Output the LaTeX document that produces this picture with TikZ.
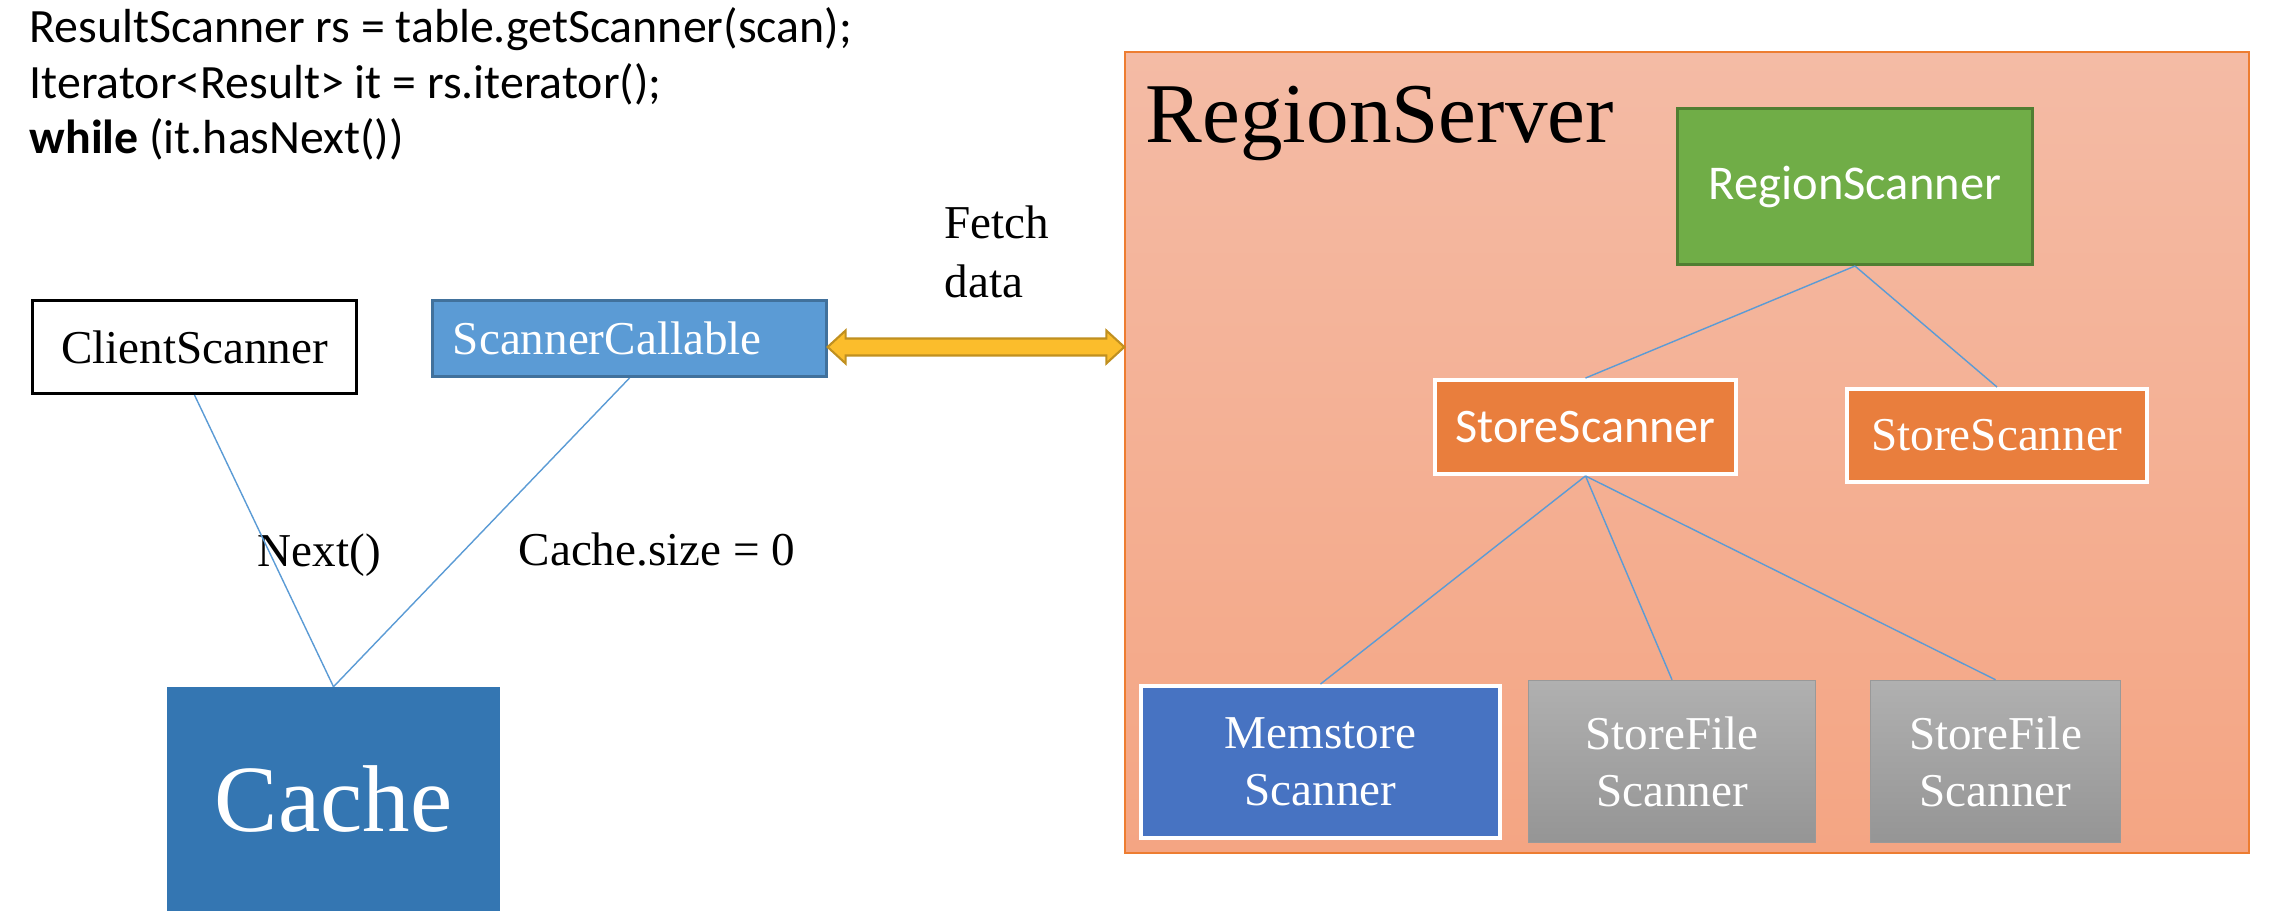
\documentclass[tikz,border=0pt]{standalone}
\usepackage{fontspec}
\setmainfont{Liberation Serif}
\newfontfamily\calibri{Carlito}
\usepackage{xcolor}
\usetikzlibrary{calc}
\definecolor{xline}{HTML}{5B9BD5}
\definecolor{xcall}{HTML}{5B9BD5}
\definecolor{xcalledge}{HTML}{41719C}
\definecolor{xgreen}{HTML}{70AD47}
\definecolor{xgreenedge}{HTML}{507E32}
\definecolor{xorange}{HTML}{E97E3D}
\definecolor{xmem}{HTML}{4773C2}
\definecolor{xcache}{HTML}{3476B2}
\definecolor{xrstop}{HTML}{F4BBA5}
\definecolor{xrsbot}{HTML}{F4A583}
\definecolor{xrsedge}{HTML}{ED7D31}
\definecolor{xgraytop}{HTML}{B0B0B0}
\definecolor{xgraybot}{HTML}{959595}
\definecolor{xyellow}{HTML}{FBBD2C}
\definecolor{xyellowedge}{HTML}{C09020}
\newcommand\labelsize{\fontsize{13.4}{16.2}\selectfont}
\newcommand\codesize{\fontsize{13.6}{16}\selectfont}
\tikzset{
	box/.style={draw, line width=0.85pt, align=center, font=\labelsize, text=white, inner sep=0pt},
	whitebox/.style={box, draw=white, line width=1.1pt},
	filebox/.style={box, draw=gray!80, line width=0.4pt, top color=xgraytop, bottom color=xgraybot},
	link/.style={draw=xline, line width=0.4pt},
	fetch/.style={draw=xyellowedge, fill=xyellow, line width=0.6pt, line join=miter},
	code/.style={anchor=base west, inner sep=0pt, font=\calibri\codesize},
	plain/.style={anchor=base west, inner sep=0pt, font=\labelsize},
}

\begin{document}
\begin{tikzpicture}[x=0.01cm, y=-0.01cm]
	\useasboundingbox (0,0) rectangle (2272,924);

	\node[code] (code1) at (29,42) {ResultScanner rs = table.getScanner(scan);};
	\node[code] (code2) at (29,98) {Iterator<Result> it = rs.iterator();};
	\node[code] (code3) at (29,153) {\textbf{while} (it.hasNext())};

	% client side
	\node[box, text=black, minimum width=3.24cm, minimum height=0.93cm] (client) at (194.5,347) {ClientScanner};
	\node[box, draw=xcalledge, fill=xcall, align=left, text width=3.53cm, inner xsep=0.2cm, minimum height=0.76cm] (callable) at (629.5,338.5) {ScannerCallable};
	\node[box, draw=xcache, fill=xcache, line width=0.4pt, minimum width=3.32cm, minimum height=2.23cm, font=\fontsize{27}{32}\selectfont] (cache) at (333.5,799) {Cache};

	\node[plain] (next) at (257,566) {Next()};
	\node[plain] (size) at (518,565) {Cache.size = 0};
	\node[plain] (fetchlbl) at (944,238) {Fetch};
	\node[plain] (datalbl) at (944,297) {data};

	\draw[link] (client.south) -- (cache.north);
	\draw[link] (callable.south) -- (cache.north);

	% region server
	\node[draw=xrsedge, line width=0.5pt, top color=xrstop, bottom color=xrsbot, minimum width=11.23cm, minimum height=8cm, inner sep=0pt] (rserver) at (1687,452.5) {};
	\node[anchor=base west, inner sep=0pt, font=\fontsize{24.2}{29}\selectfont] (rslbl) at (1145,143) {RegionServer};

	\node[box, draw=xgreenedge, fill=xgreen, minimum width=3.55cm, minimum height=1.56cm, font=\calibri\fontsize{13.8}{16}\selectfont] (regscan) at (1855,186.5) {RegionScanner};
	\node[whitebox, fill=xorange, minimum width=3.01cm, minimum height=0.94cm, font=\calibri\fontsize{13.7}{16}\selectfont] (ss1) at (1585.5,427) {StoreScanner};
	\node[whitebox, fill=xorange, minimum width=3.00cm, minimum height=0.93cm] (ss2) at (1997,435.5) {StoreScanner};
	\node[whitebox, fill=xmem, minimum width=3.59cm, minimum height=1.52cm] (mem) at (1320.5,762) {Memstore\\Scanner};
	\node[filebox, minimum width=2.87cm, minimum height=1.62cm] (sf1) at (1672,761.5) {StoreFile\\Scanner};
	\node[filebox, minimum width=2.50cm, minimum height=1.62cm] (sf2) at (1995.5,761.5) {StoreFile\\Scanner};

	\draw[link] (regscan.south) -- (ss1.north);
	\draw[link] (regscan.south) -- (ss2.north);
	\draw[link] (ss1.south) -- (mem.north);
	\draw[link] (ss1.south) -- (sf1.north);
	\draw[link] (ss1.south) -- (sf2.north);

	% fetch data arrow
	\coordinate (fa) at ($(callable.east)+(0,8.5)$);
	\coordinate (fb) at (fa -| rserver.west);
	\draw[fetch] (fa) -- ($(fa)+(18,-16.5)$) -- ($(fa)+(18,-8.5)$) -- ($(fb)+(-18,-8.5)$) -- ($(fb)+(-18,-16.5)$) -- (fb)
		-- ($(fb)+(-18,16.5)$) -- ($(fb)+(-18,8.5)$) -- ($(fa)+(18,8.5)$) -- ($(fa)+(18,16.5)$) -- cycle;
\end{tikzpicture}
\end{document}
